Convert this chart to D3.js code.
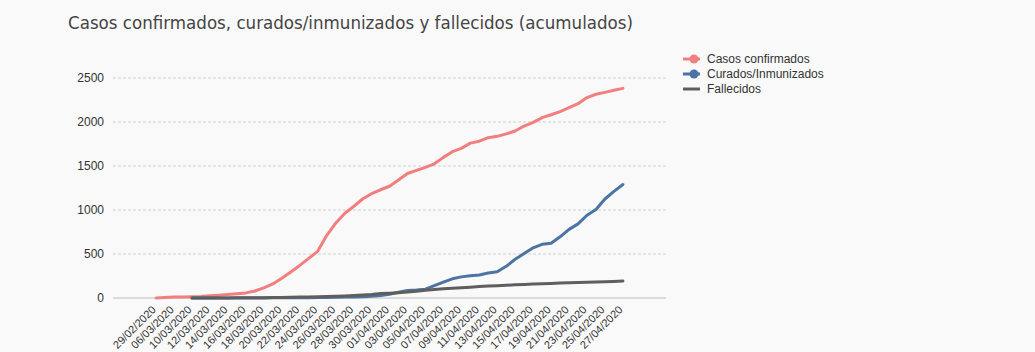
<!DOCTYPE html>
<html><head><meta charset="utf-8">
<script src="https://cdn.jsdelivr.net/npm/d3@7"></script>
<style>body{margin:0;background:#f9f9f9;} svg{display:block;}</style>
</head><body><svg id="c" width="1035" height="352"></svg>
<script>
const categories = ["29/02/2020","03/03/2020","06/03/2020","08/03/2020",
"10/03/2020","11/03/2020","12/03/2020","13/03/2020","14/03/2020","15/03/2020","16/03/2020","17/03/2020","18/03/2020","19/03/2020",
"20/03/2020","21/03/2020","22/03/2020","23/03/2020","24/03/2020","25/03/2020","26/03/2020","27/03/2020","28/03/2020","29/03/2020",
"30/03/2020","31/03/2020","01/04/2020","02/04/2020","03/04/2020","04/04/2020","05/04/2020","06/04/2020","07/04/2020","08/04/2020",
"09/04/2020","10/04/2020","11/04/2020","12/04/2020","13/04/2020","14/04/2020","15/04/2020","16/04/2020","17/04/2020","18/04/2020",
"19/04/2020","20/04/2020","21/04/2020","22/04/2020","23/04/2020","24/04/2020","25/04/2020","26/04/2020","27/04/2020"];
const casos = [1,5,10,12,14,18,26,32,40,48,58,80,115,160,225,295,370,450,530,710,850,960,1040,1125,
1185,1230,1270,1340,1415,1450,1485,1525,1598,1663,1700,1760,1782,1822,1837,1865,1898,1954,1995,2050,
2082,2118,2162,2208,2278,2315,2337,2360,2382];
const curados = [null,null,null,null,0,0,0,0,0,0,1,1,1,2,2,2,3,4,5,6,8,10,12,15,20,28,43,65,85,90,100,
140,180,218,240,252,262,285,298,360,440,505,570,610,622,695,780,842,940,1005,1125,1212,1290];
const fallecidos = [null,null,null,null,0,0,1,1,1,2,2,3,4,5,6,8,10,12,14,17,20,24,28,33,40,50,55,60,
67,78,88,96,105,110,116,122,130,136,140,145,150,154,158,163,166,170,172,175,178,181,184,187,192];
const yTicks = [0,500,1000,1500,2000,2500];
const xTickLabels = categories.filter((d,i)=>i%2===0);
const seriesNames = ["Casos confirmados","Curados/Inmunizados","Fallecidos"];
const seriesColors = ["#f27e7e","#4b74a5","#5e5e5e"];
const title = "Casos confirmados, curados/inmunizados y fallecidos (acumulados)";

const svg = d3.select("#c");
const x = d3.scalePoint().domain(categories).range([113,666]).padding(4.8);
const y = d3.scaleLinear().domain([0,2500]).range([298,78]);

svg.append("text").attr("x",68).attr("y",29).text(title)
  .attr("font-family","DejaVu Sans").attr("font-size",18).attr("fill","#444")
  .attr("textLength",565).attr("lengthAdjust","spacingAndGlyphs");

const g = svg.append("g");
g.selectAll("line.grid").data(yTicks.filter(d=>d>0)).join("line")
  .attr("x1",113).attr("x2",666).attr("y1",d=>y(d)).attr("y2",d=>y(d))
  .attr("stroke","#d0d0d0").attr("stroke-dasharray","3,2");
g.append("line").attr("x1",113).attr("x2",666).attr("y1",y(0)).attr("y2",y(0)).attr("stroke","#bdbdbd");

g.selectAll("text.yt").data(yTicks).join("text")
  .attr("x",104).attr("y",d=>y(d)).attr("dy","0.35em").attr("text-anchor","end")
  .attr("font-family","Liberation Sans, Arial").attr("font-size",12).attr("fill","#333")
  .text(d=>d);

g.selectAll("text.xt").data(xTickLabels).join("text")
  .attr("transform",d=>`translate(${x(d)-5},${305}) rotate(-45)`)
  .attr("text-anchor","end").attr("dy","0.7em")
  .attr("font-family","Liberation Sans, Arial").attr("font-size",11).attr("fill","#333")
  .text(d=>d);

const allSeries = [casos,curados,fallecidos];
const line = d3.line().defined(d=>d[1]!=null).x(d=>x(d[0])).y(d=>y(d[1]));
allSeries.forEach((s,k)=>{
  svg.append("path").datum(categories.map((c,i)=>[c,s[i]]))
    .attr("d",line).attr("fill","none").attr("stroke",seriesColors[k])
    .attr("stroke-width",3).attr("stroke-linejoin","round").attr("stroke-linecap","round");
});

const lg = svg.append("g");
seriesNames.forEach((n,k)=>{
  const yy = 59 + k*15;
  lg.append("line").attr("x1",683).attr("x2",700).attr("y1",yy).attr("y2",yy)
    .attr("stroke",seriesColors[k]).attr("stroke-width",3);
  if(k<2) lg.append("circle").attr("cx",694).attr("cy",yy).attr("r",4.5).attr("fill",seriesColors[k]);
  lg.append("text").attr("x",707).attr("y",yy).attr("dy","0.35em")
    .attr("font-family","Liberation Sans, Arial").attr("font-size",12).attr("fill","#333").text(n);
});
</script></body></html>
